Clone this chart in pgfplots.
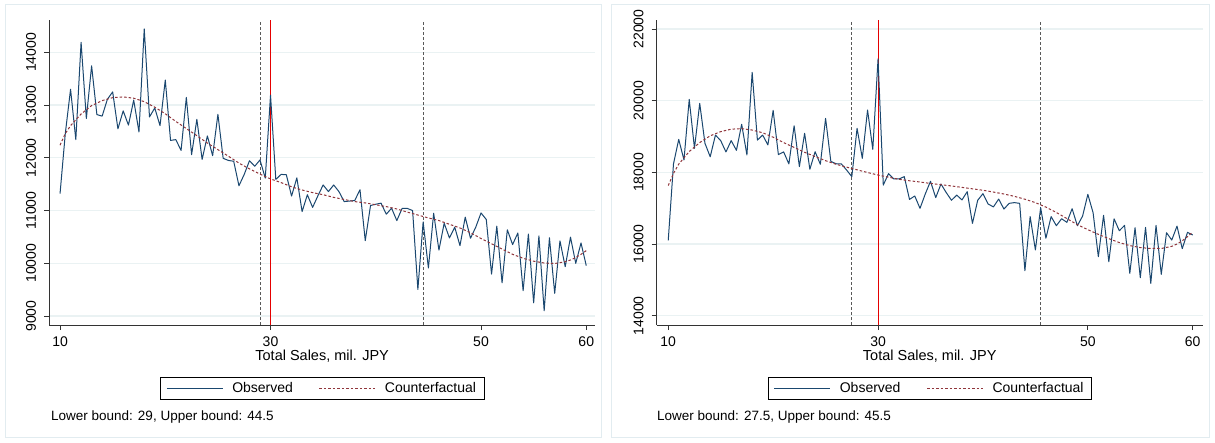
\documentclass[border=0pt]{standalone}
\usepackage{fontspec}
\setmainfont{Liberation Sans}
\usepackage{pgfplots}
\pgfplotsset{compat=1.18}
\definecolor{obs}{HTML}{1A476F}
\definecolor{cf}{HTML}{90353B}
\definecolor{gridc}{HTML}{EAF2F3}
\definecolor{framec}{HTML}{E2ECF0}
\definecolor{axc}{HTML}{333333}
\newcommand{\fs}{\fontsize{14}{16}\selectfont}
\pgfplotsset{
 stata/.style={
  scale only axis, height=305pt,
  axis x line*=bottom, axis y line*=left,
  axis line style={axc, line width=0.8pt},
  xtick={10,30,50,60},
  tick style={axc, line width=0.8pt},
  tick align=outside, major tick length=5pt,
  ymajorgrids, grid style={gridc, line width=1.2pt},
  ticklabel style={font=\fs, inner sep=0pt},
  xticklabel style={anchor=north, yshift=-7pt},
  yticklabel style={xshift=-8pt, rotate=90, anchor=south},
  /pgf/number format/assume math mode=true,
  /pgf/number format/1000 sep={},
  scaled ticks=false,
  xlabel={Total Sales, mil. JPY},
  xlabel style={at={(axis description cs:0.5,0)}, anchor=north, inner sep=0pt, yshift=-24.5pt, font=\fontsize{14.5}{16}\selectfont},
  legend style={at={(0.5,-0.172)}, anchor=north, draw=black, line width=0.6pt, legend columns=2, font=\fs,
    inner xsep=6pt, inner ysep=3pt,
    /tikz/every even column/.append style={column sep=24pt},
    /tikz/every odd column/.append style={column sep=7pt}},
  legend image code/.code={\draw[#1] (0pt,0pt) -- (56pt,0pt);},
  obsline/.style={obs, line width=1pt, line join=round},
  cfline/.style={cf, line width=1pt, dash pattern=on 2.5pt off 2pt},
 }
}
\begin{document}
\begin{tikzpicture}
\path[use as bounding box] (0,0) rectangle (1215pt,442pt);
\draw[framec, line width=1pt] (5pt,5pt) rectangle (601pt,437pt);
\draw[framec, line width=1pt] (611pt,5pt) rectangle (1209pt,437pt);
% ---------------- Panel 1 ----------------
\begin{axis}[stata, at={(49.3pt,117pt)}, anchor=south west, width=545.7pt,
  xmin=8.98, xmax=60.83, ymin=8830, ymax=14613,
  ytick={9000,10000,11000,12000,13000,14000}]
\addplot[gray!70!black, line width=0.9pt, dash pattern=on 3pt off 2pt, forget plot] coordinates {(29,8830) (29,14613)};
\addplot[gray!70!black, line width=0.9pt, dash pattern=on 3pt off 2pt, forget plot] coordinates {(44.5,8830) (44.5,14613)};
\addplot[red!90!black, line width=1pt, forget plot] coordinates {(30,8830) (30,14613)};
\addplot[obsline] coordinates {
(10,11320) (10.5,12460) (11,13300) (11.5,12345) (12,14190) (12.5,12745) (13,13745) (13.5,12820)
(14,12790) (14.5,13110) (15,13250) (15.5,12550) (16,12890) (16.5,12620) (17,13095) (17.5,12490)
(18,14445) (18.5,12775) (19,12945) (19.5,12610) (20,13475) (20.5,12330) (21,12345) (21.5,12140)
(22,13145) (22.5,12060) (23,12730) (23.5,11970) (24,12415) (24.5,12040) (25,12825) (25.5,11990)
(26,11950) (26.5,11935) (27,11470) (27.5,11685) (28,11945) (28.5,11840) (29,11960) (29.5,11615)
(30,13190) (30.5,11590) (31,11685) (31.5,11680) (32,11275) (32.5,11620) (33,10980) (33.5,11300)
(34,11060) (34.5,11280) (35,11485) (35.5,11360) (36,11485) (36.5,11360) (37,11170) (37.5,11180)
(38,11190) (38.5,11395) (39,10430) (39.5,11095) (40,11120) (40.5,11140) (41,10930) (41.5,11045)
(42,10810) (42.5,11040) (43,11040) (43.5,11000) (44,9505) (44.5,10785) (45,9910) (45.5,10950)
(46,10250) (46.5,10760) (47,10480) (47.5,10685) (48,10335) (48.5,10875) (49,10475) (49.5,10685)
(50,10955) (50.5,10830) (51,9795) (51.5,10705) (52,9630) (52.5,10635) (53,10355) (53.5,10575)
(54,9480) (54.5,10555) (55,9250) (55.5,10520) (56,9100) (56.5,10485) (57,9430) (57.5,10425)
(58,9935) (58.5,10495) (59,10000) (59.5,10385) (60,9955)};
\addlegendentry{Observed}
\addplot[cfline] coordinates {
(10,12240) (10.5,12460) (11,12610) (12,12830) (13,12990) (14,13085) (15,13140) (16,13155) (17,13130)
(18,13065) (19,12960) (20,12835) (21,12690) (22,12555) (23,12420) (24,12280) (25,12155)
(26,12030) (27,11900) (28,11790) (29,11690) (30,11600) (31,11530) (32,11450) (33,11390)
(34,11340) (35,11300) (36,11250) (37,11210) (38,11170) (39,11145) (40,11110) (41,11075)
(42,11030) (43,10970) (44,10915) (45,10860) (46,10810) (47,10740) (48,10670) (49,10580)
(50,10470) (51,10370) (52,10270) (53,10170) (54,10095) (55,10040) (56,10005) (57,9995)
(58,10030) (58.5,10062) (59,10110) (59.5,10170) (60,10240)};
\addlegendentry{Counterfactual}
\end{axis}
\node[anchor=west, inner sep=0pt, font=\fontsize{13.5}{15}\selectfont] at (51pt,25pt) {Lower bound: 29, Upper bound: 44.5};
% ---------------- Panel 2 ----------------
\begin{axis}[stata, at={(656.7pt,117pt)}, anchor=south west, width=546pt,
  xmin=8.9, xmax=60.95, ymin=13740, ymax=22251,
  ytick={14000,16000,18000,20000,22000}]
\addplot[gray!70!black, line width=0.9pt, dash pattern=on 3pt off 2pt, forget plot] coordinates {(27.5,13740) (27.5,22251)};
\addplot[gray!70!black, line width=0.9pt, dash pattern=on 3pt off 2pt, forget plot] coordinates {(45.5,13740) (45.5,22251)};
\addplot[red!90!black, line width=1pt, forget plot] coordinates {(30,13740) (30,22251)};
\addplot[obsline] coordinates {
(10,16100) (10.5,18235) (11,18920) (11.5,18345) (12,20035) (12.5,18670) (13,19925) (13.5,18810)
(14,18435) (14.5,19040) (15,18885) (15.5,18570) (16,18885) (16.5,18615) (17,19340) (17.5,18485)
(18,20790) (18.5,18900) (19,19040) (19.5,18765) (20,19730) (20.5,18495) (21,18570) (21.5,18235)
(22,19300) (22.5,18160) (23,19090) (23.5,18085) (24,18575) (24.5,18225) (25,19505) (25.5,18305)
(26,18240) (26.5,18235) (27,18065) (27.5,17880) (28,19230) (28.5,18390) (29,19740) (29.5,18640)
(30,21165) (30.5,17645) (31,17965) (31.5,17815) (32,17815) (32.5,17880) (33,17245) (33.5,17340)
(34,16995) (34.5,17395) (35,17750) (35.5,17295) (36,17675) (36.5,17435) (37,17220) (37.5,17365)
(38,17230) (38.5,17460) (39,16575) (39.5,17220) (40,17405) (40.5,17115) (41,17035) (41.5,17255)
(42,16975) (42.5,17135) (43,17155) (43.5,17135) (44,15255) (44.5,16765) (45,15835) (45.5,17015)
(46,16160) (46.5,16765) (47,16510) (47.5,16705) (48,16605) (48.5,16985) (49,16510) (49.5,16780)
(50,17385) (50.5,16875) (51,15645) (51.5,16800) (52,15505) (52.5,16705) (53,16370) (53.5,16520)
(54,15180) (54.5,16455) (55,15060) (55.5,16465) (56,14900) (56.5,16520) (57,15155) (57.5,16315)
(58,16110) (58.5,16500) (59,15870) (59.5,16325) (60,16250)};
\addlegendentry{Observed}
\addplot[cfline] coordinates {
(10,17630) (10.5,17970) (11,18230) (12,18580) (13,18830) (14,19020) (15,19135) (16,19205)
(17,19220) (18,19180) (19,19105) (20,18980) (21,18830) (22,18695) (23,18560) (24,18440)
(25,18325) (26,18225) (27,18145) (28,18070) (29,17995) (30,17925) (31,17865) (32,17805)
(33,17765) (34,17730) (35,17690) (36,17655) (37,17620) (38,17580) (39,17540) (40,17500)
(41,17450) (42,17395) (43,17330) (44,17250) (45,17155) (46,17030) (47,16880) (48,16710)
(49,16540) (50,16400) (51,16270) (52,16150) (53,16040) (54,15955) (55,15900) (56,15875)
(57,15875) (58,15935) (58.5,16000) (59,16090) (59.5,16205) (60,16335)};
\addlegendentry{Counterfactual}
\end{axis}
\node[anchor=west, inner sep=0pt, font=\fontsize{13.5}{15}\selectfont] at (657pt,25pt) {Lower bound: 27.5, Upper bound: 45.5};
\end{tikzpicture}
\end{document}
